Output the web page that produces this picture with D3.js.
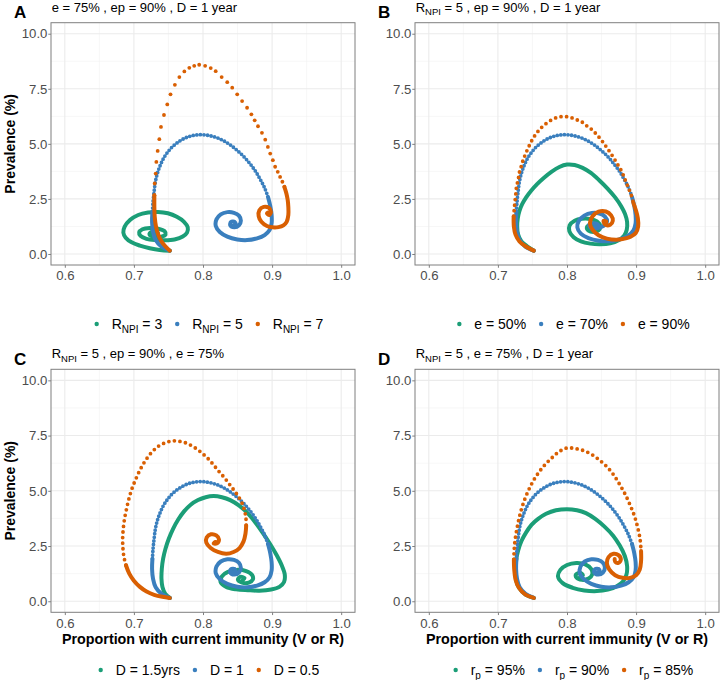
<!DOCTYPE html>
<html>
<head>
<meta charset="utf-8">
<script src="https://cdn.jsdelivr.net/npm/d3@7"></script>
<style>
  html, body { margin: 0; padding: 0; background: #ffffff; }
  svg { display: block; }
</style>
</head>
<body>
<div id="chart"></div>
<script>
// ---------------- DATA (immunity proportion, prevalence %) ----------------
// Baseline scenario: R_NPI = 5, e = 75%, ep (r_p) = 90%, D = 1 year (blue in A, C, D)
const baseline = [[0.752,0.15],[0.740,0.33],[0.7315,0.63],[0.7277,1.01],[0.7263,1.46],[0.7268,1.92],[0.7277,2.37],[0.7292,2.82],[0.7311,3.28],[0.7339,3.65],[0.7378,4.00],[0.7425,4.32],[0.7483,4.60],[0.7554,4.86],[0.7636,5.07],[0.7731,5.25],[0.7827,5.36],[0.7922,5.41],[0.8018,5.41],[0.8113,5.36],[0.8209,5.27],[0.8305,5.13],[0.8400,4.94],[0.8496,4.70],[0.8591,4.42],[0.8677,4.11],[0.8759,3.76],[0.8830,3.38],[0.8892,3.00],[0.8940,2.60],[0.8974,2.17],[0.8993,1.77],[0.8993,1.39],[0.8964,1.09],[0.8892,0.86],[0.8783,0.71],[0.8639,0.63],[0.8496,0.66],[0.8352,0.79],[0.8243,1.00],[0.8185,1.27],[0.8195,1.57],[0.8257,1.80],[0.8352,1.90],[0.8448,1.87],[0.8520,1.74],[0.8548,1.51],[0.8520,1.30],[0.8453,1.21],[0.8395,1.30],[0.8405,1.45],[0.8458,1.46],[0.8472,1.34],[0.8440,1.30]];

// Panel A: R_NPI = 3 and 7
const a_R3 = [[0.752,0.15],[0.7373,0.18],[0.7229,0.26],[0.7086,0.38],[0.6967,0.53],[0.6881,0.74],[0.6847,0.97],[0.6866,1.24],[0.6943,1.54],[0.7062,1.77],[0.7205,1.88],[0.7349,1.91],[0.7492,1.85],[0.7621,1.69],[0.7722,1.47],[0.7779,1.21],[0.7769,0.97],[0.7707,0.79],[0.7588,0.66],[0.7444,0.62],[0.7301,0.63],[0.7182,0.69],[0.7096,0.82],[0.7076,0.98],[0.7124,1.12],[0.7229,1.18],[0.7349,1.15],[0.7444,1.04],[0.7459,0.89],[0.7397,0.79],[0.7301,0.79],[0.7229,0.86],[0.7239,0.97],[0.7301,1.00],[0.7349,0.94],[0.7315,0.86],[0.7277,0.91]];
const a_R7 = [[0.752,0.15],[0.7459,0.33],[0.7401,0.56],[0.7354,0.86],[0.7320,1.24],[0.7301,1.69],[0.7296,2.14],[0.7296,2.67],[0.7301,3.20],[0.7315,3.65],[0.7325,4.18],[0.7344,4.68],[0.7368,5.21],[0.7392,5.77],[0.7435,6.31],[0.7483,6.79],[0.7530,7.25],[0.7593,7.68],[0.7658,8.03],[0.7730,8.29],[0.7802,8.45],[0.7873,8.54],[0.7945,8.59],[0.8031,8.54],[0.8112,8.44],[0.8184,8.30],[0.8270,8.03],[0.8351,7.80],[0.8423,7.55],[0.8495,7.25],[0.8566,6.94],[0.8638,6.64],[0.8700,6.34],[0.8748,6.07],[0.8796,5.80],[0.8853,5.50],[0.8901,5.19],[0.8939,4.86],[0.8973,4.56],[0.9011,4.26],[0.9044,3.96],[0.9082,3.73],[0.9116,3.50],[0.9149,3.28],[0.9178,3.05],[0.9207,2.75],[0.9226,2.45],[0.9235,2.14],[0.9235,1.77],[0.9211,1.46],[0.9164,1.30],[0.9093,1.22],[0.9007,1.21],[0.8926,1.27],[0.8845,1.46],[0.8806,1.72],[0.8816,1.99],[0.8878,2.14],[0.8950,2.10],[0.8983,1.92],[0.8959,1.77],[0.8926,1.84],[0.8940,1.88]];

// Panel B: e = 50%, 70%, 90%
const b_e50 = [[0.752,0.15],[0.7423,0.35],[0.7341,0.57],[0.7293,0.88],[0.7279,1.25],[0.7288,1.63],[0.7312,1.96],[0.7351,2.26],[0.7409,2.57],[0.7481,2.87],[0.7567,3.17],[0.7663,3.45],[0.7774,3.73],[0.7889,3.95],[0.8000,4.06],[0.8111,4.04],[0.8226,3.91],[0.8346,3.68],[0.8466,3.35],[0.8587,2.97],[0.8697,2.57],[0.8784,2.17],[0.8841,1.81],[0.8870,1.45],[0.8865,1.10],[0.8827,0.83],[0.8745,0.62],[0.8625,0.48],[0.8481,0.44],[0.8337,0.47],[0.8202,0.57],[0.8096,0.76],[0.8034,1.03],[0.8038,1.30],[0.8111,1.51],[0.8216,1.60],[0.8337,1.59],[0.8433,1.48],[0.8481,1.28],[0.8457,1.07],[0.8385,1.00],[0.8313,1.06],[0.8288,1.22],[0.8337,1.33],[0.8394,1.25],[0.8370,1.15]];
const b_e70 = [[0.752,0.15],[0.7397,0.33],[0.7315,0.63],[0.7275,1.01],[0.7262,1.46],[0.7267,1.92],[0.7277,2.37],[0.7292,2.82],[0.7311,3.28],[0.7339,3.65],[0.7378,4.00],[0.7425,4.32],[0.7483,4.60],[0.7554,4.86],[0.7636,5.07],[0.7731,5.25],[0.7827,5.36],[0.7922,5.41],[0.8018,5.41],[0.8113,5.36],[0.8209,5.27],[0.8305,5.13],[0.8400,4.94],[0.8496,4.70],[0.8591,4.42],[0.8677,4.10],[0.8759,3.76],[0.8830,3.38],[0.8892,3.00],[0.8940,2.60],[0.8974,2.17],[0.8993,1.77],[0.8993,1.39],[0.8960,1.06],[0.8880,0.82],[0.8760,0.66],[0.8610,0.58],[0.8460,0.60],[0.8310,0.72],[0.8200,0.92],[0.8150,1.20],[0.8170,1.50],[0.8250,1.74],[0.8360,1.86],[0.8470,1.84],[0.8550,1.70],[0.8580,1.48],[0.8530,1.28],[0.8430,1.17],[0.8340,1.20],[0.8320,1.33],[0.8390,1.40],[0.8450,1.33],[0.8410,1.25]];
const b_e90 = [[0.752,0.15],[0.7399,0.35],[0.7312,0.57],[0.7255,0.88],[0.7231,1.25],[0.7228,1.71],[0.7240,2.16],[0.7260,2.76],[0.7270,3.07],[0.7294,3.37],[0.7308,3.67],[0.7337,3.97],[0.7366,4.27],[0.7404,4.57],[0.7448,4.88],[0.7496,5.18],[0.7558,5.48],[0.7630,5.74],[0.7702,5.93],[0.7789,6.11],[0.7870,6.21],[0.7952,6.24],[0.8039,6.21],[0.8125,6.11],[0.8207,6.01],[0.8289,5.81],[0.8366,5.63],[0.8433,5.41],[0.8496,5.18],[0.8558,4.91],[0.8616,4.65],[0.8673,4.38],[0.8736,4.05],[0.8793,3.74],[0.8841,3.37],[0.8880,3.07],[0.8928,2.69],[0.8962,2.31],[0.8995,2.01],[0.9025,1.63],[0.9030,1.25],[0.8995,0.95],[0.8920,0.78],[0.8865,0.72],[0.8721,0.65],[0.8577,0.70],[0.8457,0.85],[0.8370,1.10],[0.8332,1.40],[0.8370,1.71],[0.8457,1.92],[0.8562,1.93],[0.8639,1.75],[0.8663,1.51],[0.8625,1.33],[0.8553,1.33],[0.8529,1.51],[0.8570,1.47]];

// Panel C: D = 1.5 yrs and 0.5
const c_D15 = [[0.752,0.15],[0.7452,0.35],[0.7413,0.65],[0.7399,1.02],[0.7404,1.48],[0.7423,1.93],[0.7457,2.38],[0.7505,2.83],[0.7567,3.28],[0.7639,3.69],[0.7726,4.07],[0.7822,4.37],[0.7928,4.58],[0.8038,4.71],[0.8154,4.76],[0.8274,4.71],[0.8394,4.58],[0.8519,4.34],[0.8639,4.01],[0.8755,3.58],[0.8865,3.10],[0.8971,2.59],[0.9067,2.08],[0.9139,1.63],[0.9183,1.22],[0.9173,0.87],[0.9106,0.65],[0.8986,0.53],[0.8817,0.48],[0.8649,0.50],[0.8481,0.54],[0.8337,0.65],[0.8255,0.87],[0.8274,1.13],[0.8361,1.33],[0.8490,1.42],[0.8625,1.36],[0.8712,1.18],[0.8721,0.98],[0.8663,0.84],[0.8567,0.84],[0.8505,0.98],[0.8538,1.10],[0.8601,1.05],[0.8570,0.94]];
const c_D05 = [[0.752,0.15],[0.7413,0.20],[0.7293,0.29],[0.7183,0.44],[0.7087,0.65],[0.7000,0.93],[0.6933,1.25],[0.6885,1.63],[0.6856,2.00],[0.6841,2.41],[0.6837,2.83],[0.6846,3.28],[0.6865,3.74],[0.6894,4.19],[0.6928,4.64],[0.6971,5.09],[0.7029,5.54],[0.7096,5.99],[0.7173,6.40],[0.7260,6.75],[0.7356,7.02],[0.7457,7.18],[0.7558,7.26],[0.7654,7.24],[0.7750,7.17],[0.7846,7.02],[0.7933,6.84],[0.8010,6.64],[0.8082,6.43],[0.8149,6.19],[0.8216,5.93],[0.8284,5.69],[0.8346,5.45],[0.8404,5.21],[0.8462,4.97],[0.8514,4.73],[0.8563,4.46],[0.8596,4.16],[0.8620,3.81],[0.8625,3.43],[0.8615,3.06],[0.8587,2.71],[0.8529,2.41],[0.8442,2.23],[0.8337,2.15],[0.8216,2.23],[0.8111,2.41],[0.8048,2.65],[0.8053,2.89],[0.8115,3.03],[0.8192,2.98],[0.8231,2.80],[0.8202,2.62],[0.8154,2.61],[0.8180,2.68],[0.8200,2.64]];

// Panel D: r_p = 95% and 85%
const d_rp95 = [[0.752,0.15],[0.7399,0.30],[0.7313,0.58],[0.7264,0.94],[0.7255,1.39],[0.7264,1.85],[0.7293,2.30],[0.7341,2.73],[0.7409,3.12],[0.7486,3.46],[0.7582,3.73],[0.7697,3.96],[0.7841,4.12],[0.8000,4.17],[0.8144,4.12],[0.8274,3.99],[0.8409,3.73],[0.8543,3.38],[0.8668,2.97],[0.8764,2.52],[0.8837,2.05],[0.8870,1.59],[0.8861,1.21],[0.8813,0.91],[0.8721,0.68],[0.8591,0.53],[0.8433,0.46],[0.8250,0.49],[0.8082,0.61],[0.7938,0.82],[0.7870,1.12],[0.7904,1.42],[0.8000,1.64],[0.8135,1.73],[0.8264,1.67],[0.8351,1.46],[0.8365,1.21],[0.8313,1.03],[0.8216,0.97],[0.8139,1.06],[0.8130,1.21],[0.8188,1.29],[0.8230,1.18],[0.8190,1.11]];
const d_rp85 = [[0.752,0.15],[0.7399,0.30],[0.7303,0.61],[0.7255,0.99],[0.7236,1.44],[0.7231,1.89],[0.7236,2.35],[0.7250,2.80],[0.7274,3.26],[0.7303,3.71],[0.7341,4.17],[0.7389,4.62],[0.7447,5.05],[0.7514,5.46],[0.7591,5.83],[0.7678,6.17],[0.7774,6.47],[0.7880,6.76],[0.8000,6.94],[0.8120,6.91],[0.8240,6.82],[0.8361,6.64],[0.8471,6.39],[0.8577,6.09],[0.8673,5.73],[0.8760,5.30],[0.8841,4.85],[0.8913,4.36],[0.8976,3.86],[0.9024,3.33],[0.9058,2.80],[0.9072,2.27],[0.9072,1.82],[0.9053,1.44],[0.9000,1.18],[0.8913,1.06],[0.8803,1.06],[0.8697,1.18],[0.8611,1.44],[0.8577,1.74],[0.8601,2.00],[0.8673,2.15],[0.8745,2.09],[0.8779,1.89],[0.8745,1.74],[0.8697,1.79],[0.8690,1.91]];

// Axis ticks
const xTicks = [0.6, 0.7, 0.8, 0.9, 1.0];
const xMinor = [0.65, 0.75, 0.85, 0.95];
const yTicks = [0, 2.5, 5, 7.5, 10];
const yMinor = [1.25, 3.75, 6.25, 8.75];

// Legend labels: [main, subscript, rest]
const legendA = [["R","NPI"," = 3"],["R","NPI"," = 5"],["R","NPI"," = 7"]];
const legendB = [["e = 50%","",""],["e = 70%","",""],["e = 90%","",""]];
const legendC = [["D = 1.5yrs","",""],["D = 1","",""],["D = 0.5","",""]];
const legendD = [["r","p"," = 95%"],["r","p"," = 90%"],["r","p"," = 85%"]];

// Panel subtitles: [main, subscript, rest]
const titleA = ["e = 75% , ep = 90% , D = 1 year","",""];
const titleB = ["R","NPI"," = 5 , ep = 90% , D = 1 year"];
const titleC = ["R","NPI"," = 5 , ep = 90% , e = 75%"];
const titleD = ["R","NPI"," = 5 , e = 75% , D = 1 year"];

const colors = ["#1B9E77", "#3A7FBE", "#D95F02"];

// ---------------- LAYOUT / STYLE ----------------
const W = 722, H = 680;
const FONT = "'Liberation Sans', Arial, Helvetica, sans-serif";

// rendering style for the fast-moving (sparsely sampled) part of each trajectory
const S_DOTS = (from, to) => ({mode: "dots", from, to});
const S_DASH = (from, to, gap) => ({mode: "dash", from, to, gap});

const panels = [
  {letter:"A", x0:51,  x1:355, y0:22.7,  y1:265,   series:[a_R3, baseline, a_R7],
   styles:[null, S_DASH(5, 29, 3.6), S_DOTS(7, 44)],
   legend:legendA, title:titleA, yTitle:true,  xTitle:false, legendY:324, legendCx:210},
  {letter:"B", x0:415, x1:719, y0:22.7,  y1:265,   series:[b_e50, b_e70, b_e90],
   styles:[null, S_DASH(5, 29, 3.6), S_DASH(5, 37, 5.6)],
   legend:legendB, title:titleB, yTitle:false, xTitle:false, legendY:324, legendCx:574.5},
  {letter:"C", x0:51,  x1:355, y0:369.3, y1:612.3, series:[c_D15, baseline, c_D05],
   styles:[null, S_DASH(5, 29, 3.6), S_DASH(7, 39, 5.6)],
   legend:legendC, title:titleC, yTitle:true,  xTitle:true,  legendY:670, legendCx:210},
  {letter:"D", x0:415, x1:719, y0:369.3, y1:612.3, series:[d_rp95, baseline, d_rp85],
   styles:[null, S_DASH(5, 29, 3.6), S_DASH(5, 31, 5.6)],
   legend:legendD, title:titleD, yTitle:false, xTitle:true,  legendY:670, legendCx:574.5}
];

const svg = d3.select("#chart").append("svg")
  .attr("width", W).attr("height", H)
  .attr("viewBox", `0 0 ${W} ${H}`)
  .style("font-family", FONT);

svg.append("rect").attr("width", W).attr("height", H).attr("fill", "#ffffff");

function richText(sel, parts, size, subSize) {
  sel.append("tspan").text(parts[0]);
  if (parts[1]) {
    sel.append("tspan").attr("font-size", subSize).attr("dy", size * 0.26).text(parts[1]);
    sel.append("tspan").attr("dy", -size * 0.26).text(parts[2]);
  } else if (parts[2]) {
    sel.append("tspan").text(parts[2]);
  }
}

const LW = 4.0;

panels.forEach(p => {
  const x = d3.scaleLinear().domain([0.58, 1.02]).range([p.x0, p.x1]);
  const y = d3.scaleLinear().domain([-0.5, 10.5]).range([p.y1, p.y0]);
  const g = svg.append("g");

  // minor grid
  g.selectAll(".vmin").data(xMinor).join("line")
    .attr("x1", d => x(d)).attr("x2", d => x(d)).attr("y1", p.y0).attr("y2", p.y1)
    .attr("stroke", "#F2F2F2").attr("stroke-width", 0.6);
  g.selectAll(".hmin").data(yMinor).join("line")
    .attr("y1", d => y(d)).attr("y2", d => y(d)).attr("x1", p.x0).attr("x2", p.x1)
    .attr("stroke", "#F2F2F2").attr("stroke-width", 0.6);
  // major grid
  g.selectAll(".vmaj").data(xTicks).join("line")
    .attr("x1", d => x(d)).attr("x2", d => x(d)).attr("y1", p.y0).attr("y2", p.y1)
    .attr("stroke", "#EBEBEB").attr("stroke-width", 1.1);
  g.selectAll(".hmaj").data(yTicks).join("line")
    .attr("y1", d => y(d)).attr("y2", d => y(d)).attr("x1", p.x0).attr("x2", p.x1)
    .attr("stroke", "#EBEBEB").attr("stroke-width", 1.1);

  // data series
  const line = d3.line().x(d => x(d[0])).y(d => y(d[1])).curve(d3.curveCatmullRom.alpha(0.5));
  p.series.forEach((s, i) => {
    const sg = g.append("g");
    const st = p.styles[i];
    const solid = (arr) => sg.append("path").datum(arr).attr("d", line)
      .attr("fill", "none").attr("stroke", colors[i])
      .attr("stroke-width", LW).attr("stroke-linecap", "round").attr("stroke-linejoin", "round");
    if (!st) {
      solid(s);
    } else {
      solid(s.slice(0, st.from + 1));
      solid(s.slice(st.to));
      const mid = s.slice(st.from, st.to + 1);
      if (st.mode === "dots") {
        sg.selectAll("circle").data(mid).join("circle")
          .attr("cx", d => x(d[0])).attr("cy", d => y(d[1])).attr("r", 1.9)
          .attr("fill", colors[i]);
      } else {
        sg.append("path").datum(mid).attr("d", line)
          .attr("fill", "none").attr("stroke", colors[i])
          .attr("stroke-width", 3.8).attr("stroke-linecap", "round")
          .attr("stroke-dasharray", `0 ${st.gap}`);
      }
    }
  });

  // border
  g.append("rect").attr("x", p.x0).attr("y", p.y0)
    .attr("width", p.x1 - p.x0).attr("height", p.y1 - p.y0)
    .attr("fill", "none").attr("stroke", "#7F7F7F").attr("stroke-width", 1);

  // axes
  const xa = g.append("g").attr("transform", `translate(0,${p.y1})`)
    .call(d3.axisBottom(x).tickValues(xTicks).tickFormat(d3.format(".1f")).tickSize(2.75).tickPadding(3.2));
  const ya = g.append("g").attr("transform", `translate(${p.x0},0)`)
    .call(d3.axisLeft(y).tickValues(yTicks).tickFormat(d3.format(".1f")).tickSize(2.75).tickPadding(0.8));
  [xa, ya].forEach(a => {
    a.select(".domain").remove();
    a.selectAll(".tick line").attr("stroke", "#7F7F7F");
    a.selectAll(".tick text").attr("fill", "#4D4D4D").style("font-size", "13.2px").style("font-family", FONT);
  });

  // panel letter
  svg.append("text").attr("x", p.x0 - 37).attr("y", p.y0 - 4.4)
    .attr("font-weight", "bold").attr("font-size", 17).attr("fill", "#000").text(p.letter);

  // subtitle
  const t = svg.append("text").attr("x", p.x0 + 0.7).attr("y", p.y0 - 11)
    .attr("font-size", 13).attr("fill", "#000");
  richText(t, p.title, 13, 9.5);

  // y title
  if (p.yTitle) {
    svg.append("text")
      .attr("transform", `translate(14.5,${(p.y0 + p.y1) / 2}) rotate(-90)`)
      .attr("text-anchor", "middle").attr("font-weight", "bold").attr("font-size", 14)
      .attr("fill", "#000").text("Prevalence (%)");
  }
  // x title
  if (p.xTitle) {
    svg.append("text")
      .attr("x", (p.x0 + p.x1) / 2).attr("y", 644)
      .attr("text-anchor", "middle").attr("font-weight", "bold").attr("font-size", 14.3)
      .attr("fill", "#000").text("Proportion with current immunity (V or R)");
  }

  // legend
  const lg = svg.append("g");
  const items = p.legend.map((lab, i) => {
    const it = lg.append("g");
    it.append("circle").attr("r", 2.2).attr("fill", colors[i]).attr("cy", p.legendY);
    const tx = it.append("text").attr("y", p.legendY + 5).attr("font-size", 14).attr("fill", "#000");
    richText(tx, lab, 14, 10);
    return {it, tx, w: tx.node().getComputedTextLength()};
  });
  const dotToText = 15, textToDot = 15;
  let total = 0;
  items.forEach((d, i) => { total += dotToText + d.w + (i < items.length - 1 ? textToDot : 0); });
  let cx = p.legendCx - total / 2;
  items.forEach((d, i) => {
    d.it.select("circle").attr("cx", cx);
    d.tx.attr("x", cx + dotToText);
    cx += dotToText + d.w + textToDot;
  });
});
</script>
</body>
</html>
